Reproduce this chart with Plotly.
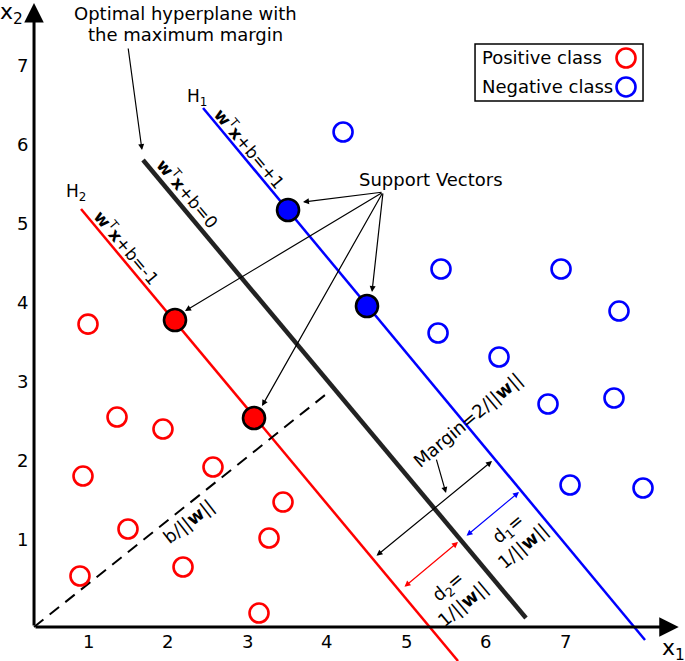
import plotly.graph_objects as go

# ---- data (diagram units = tick units) ----
pos_x = [1.00, 1.365, 1.943, 0.937, 2.572, 3.453, 1.503, 3.277, 0.899, 2.195, 3.151]
pos_y = [3.72, 2.544, 2.392, 1.797, 1.911, 1.468, 1.127, 1.013, 0.532, 0.646, 0.063]
neg_x = [4.208, 5.440, 6.950, 5.403, 7.679, 6.170, 6.786, 7.616, 7.063, 7.981]
neg_y = [6.152, 4.418, 4.418, 3.608, 3.886, 3.304, 2.709, 2.785, 1.684, 1.646]
sv_pos_x = [2.094, 3.088]
sv_pos_y = [3.772, 2.532]
sv_neg_x = [3.516, 4.509]
sv_neg_y = [5.165, 3.949]

h1_x = [2.447, 8.006]
h1_y = [6.456, -0.278]
h0_x = [1.692, 6.509]
h0_y = [5.797, 0.0]
h2_x = [0.912, 5.654]
h2_y = [5.177, -0.544]
dash_x = [0.321, 4.044]
dash_y = [-0.114, 2.873]

origin = (0.321, -0.114)
x_end = 8.43
y_end = 7.785

xticks = [1, 2, 3, 4, 5, 6, 7]
yticks = [1, 2, 3, 4, 5, 6, 7]

FONT = "DejaVu Sans"
RED = "#ff0000"
BLUE = "#0000ff"

fig = go.Figure()

fig.add_trace(go.Scatter(x=h2_x, y=h2_y, mode="lines", line=dict(color=RED, width=2.5), hoverinfo="skip"))
fig.add_trace(go.Scatter(x=h1_x, y=h1_y, mode="lines", line=dict(color=BLUE, width=2.5), hoverinfo="skip"))
fig.add_trace(go.Scatter(x=h0_x, y=h0_y, mode="lines", line=dict(color="#222222", width=4.5), hoverinfo="skip"))
fig.add_trace(go.Scatter(x=dash_x, y=dash_y, mode="lines", line=dict(color="black", width=2, dash="12px,8px"), hoverinfo="skip"))

fig.add_trace(go.Scatter(x=pos_x, y=pos_y, mode="markers",
                         marker=dict(size=19, color="rgba(0,0,0,0)", line=dict(color=RED, width=2.6))))
fig.add_trace(go.Scatter(x=neg_x, y=neg_y, mode="markers",
                         marker=dict(size=19, color="rgba(0,0,0,0)", line=dict(color=BLUE, width=2.6))))
fig.add_trace(go.Scatter(x=sv_pos_x, y=sv_pos_y, mode="markers",
                         marker=dict(size=22, color=RED, line=dict(color="black", width=2.6))))
fig.add_trace(go.Scatter(x=sv_neg_x, y=sv_neg_y, mode="markers",
                         marker=dict(size=22, color=BLUE, line=dict(color="black", width=2.6))))

# legend (custom)
leg_box = (5.868, 6.544, 7.981, 7.266)
leg_text_x = 5.931
leg_rows_y = [7.089, 6.722]
leg_circle_x = 7.767
fig.add_shape(type="rect", x0=leg_box[0], y0=leg_box[1], x1=leg_box[2], y1=leg_box[3],
              line=dict(color="black", width=1.5), fillcolor="rgba(0,0,0,0)")
fig.add_trace(go.Scatter(x=[leg_circle_x, leg_circle_x], y=leg_rows_y, mode="markers",
                         marker=dict(size=19, color="rgba(0,0,0,0)", line=dict(color=[RED, BLUE], width=2.6))))
for label, yy in zip(["Positive class", "Negative class"], leg_rows_y):
    fig.add_annotation(x=leg_text_x, y=yy, text=label, showarrow=False, xanchor="left",
                       font=dict(family=FONT, size=18, color="black"))

def arrow(x0, y0, x1, y1, color="black", width=1.2, both=False, head=2, size=1.0):
    fig.add_annotation(x=x1, y=y1, ax=x0, ay=y0, xref="x", yref="y", axref="x", ayref="y",
                       text="", showarrow=True, arrowhead=head, arrowsize=size, arrowwidth=width,
                       arrowcolor=color, startarrowhead=head, startarrowsize=size,
                       arrowside="end+start" if both else "end", standoff=0, startstandoff=0)

# axes
arrow(origin[0], origin[1], x_end, origin[1], width=3, head=2, size=1.3)
arrow(origin[0], origin[1], origin[0], y_end, width=3, head=2, size=1.3)

# ticks labels
for t in xticks:
    fig.add_annotation(x=t, y=-0.30, text=str(t), showarrow=False, font=dict(family=FONT, size=18, color="black"))
for t in yticks:
    fig.add_annotation(x=0.170, y=t, text=str(t), showarrow=False, font=dict(family=FONT, size=18, color="black"))
fig.add_annotation(x=0.035, y=7.655, text="x<sub>2</sub>", showarrow=False, font=dict(family=FONT, size=22, color="black"))
fig.add_annotation(x=8.37, y=-0.40, text="x<sub>1</sub>", showarrow=False, font=dict(family=FONT, size=22, color="black"))

# titles / labels
fig.add_annotation(x=2.22, y=7.650, text="Optimal hyperplane with", showarrow=False,
                   font=dict(family=FONT, size=18, color="black"))
fig.add_annotation(x=2.22, y=7.385, text="the maximum margin", showarrow=False,
                   font=dict(family=FONT, size=18, color="black"))
arrow(1.503, 7.228, 1.679, 5.924)
fig.add_annotation(x=2.371, y=6.595, text="H<sub>1</sub>", showarrow=False, font=dict(family=FONT, size=17, color="black"))
fig.add_annotation(x=0.849, y=5.392, text="H<sub>2</sub>", showarrow=False, font=dict(family=FONT, size=17, color="black"))
fig.add_annotation(x=3.038, y=5.949, text="<b>w</b><sup>T</sup><b>x</b>+b=+1", textangle=50, showarrow=False,
                   font=dict(family=FONT, size=17, color="black"))
fig.add_annotation(x=2.258, y=5.380, text="<b>w</b><sup>T</sup><b>x</b>+b=0", textangle=50, showarrow=False,
                   font=dict(family=FONT, size=17, color="black"))
fig.add_annotation(x=1.491, y=4.696, text="<b>w</b><sup>T</sup><b>x</b>+b=-1", textangle=50, showarrow=False,
                   font=dict(family=FONT, size=17, color="black"))

# support vectors
fig.add_annotation(x=5.314, y=5.557, text="Support Vectors", showarrow=False, font=dict(family=FONT, size=18, color="black"))
sv_src = (4.711, 5.392)
sv_tips_x = [3.704, 4.572, 2.220, 3.189]
sv_tips_y = [5.266, 4.127, 3.886, 2.684]
for tx, ty in zip(sv_tips_x, sv_tips_y):
    arrow(sv_src[0], sv_src[1], tx, ty)

# margin
fig.add_annotation(x=5.767, y=2.506, text="Margin=2/||<b>w</b>||", textangle=-40, showarrow=False,
                   font=dict(family=FONT, size=18, color="black"))
arrow(5.377, 2.025, 5.503, 1.582)
arrow(4.610, 0.772, 6.082, 1.987, both=True)
arrow(5.742, 1.025, 6.421, 1.595, color=BLUE, both=True)
arrow(4.962, 0.380, 5.654, 0.962, color=RED, both=True)
fig.add_annotation(x=6.371, y=1.025, text="d<sub>1</sub>=<br>1/||<b>w</b>||", textangle=-40, showarrow=False,
                   font=dict(family=FONT, size=18, color="black"))
fig.add_annotation(x=5.616, y=0.291, text="d<sub>2</sub>=<br>1/||<b>w</b>||", textangle=-40, showarrow=False,
                   font=dict(family=FONT, size=18, color="black"))
fig.add_annotation(x=2.258, y=1.228, text="b/||<b>w</b>||", textangle=-38, showarrow=False,
                   font=dict(family=FONT, size=18, color="black"))

fig.update_layout(
    width=685, height=661, margin=dict(l=0, r=0, t=0, b=0),
    paper_bgcolor="white", plot_bgcolor="white", showlegend=False,
    xaxis=dict(range=[-0.107, 8.509], visible=False, fixedrange=True),
    yaxis=dict(range=[-0.544, 7.823], visible=False, fixedrange=True),
)
fig.write_html("out.html", config={"displayModeBar": False},
               post_script="document.body.style.margin='0';document.body.style.overflow='hidden';")
